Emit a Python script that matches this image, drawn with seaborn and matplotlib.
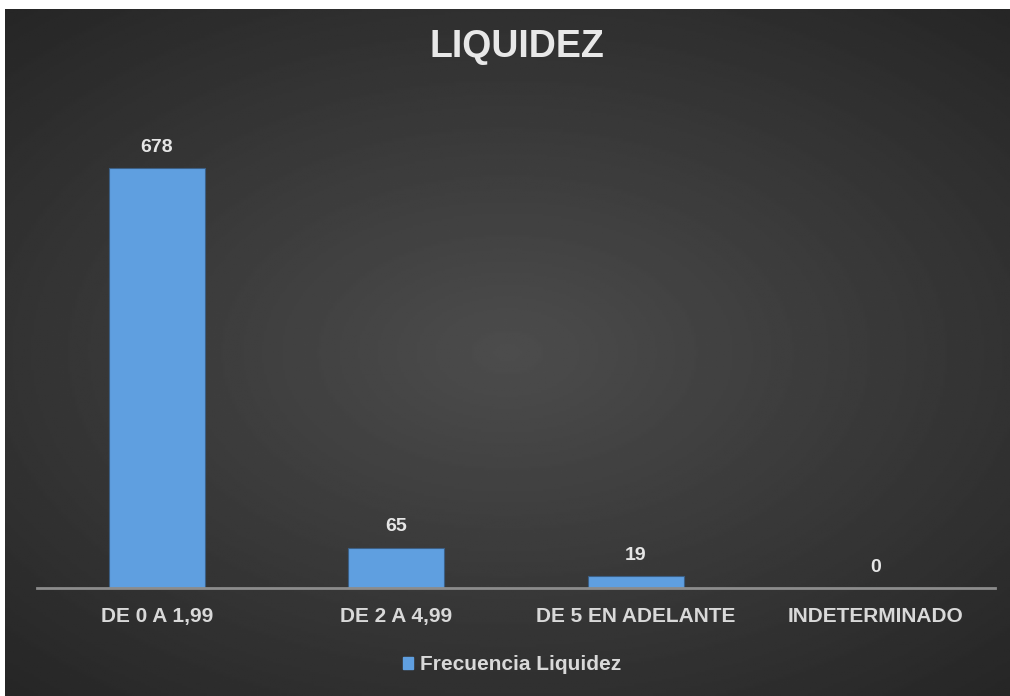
import numpy as np
import pandas as pd
import matplotlib.pyplot as plt
import seaborn as sns

# data
categorias = ["DE 0 A 1,99", "DE 2 A 4,99", "DE 5 EN ADELANTE", "INDETERMINADO"]
frecuencia = [678, 65, 19, 0]
serie = "Frecuencia Liquidez"

df = pd.DataFrame({"rango": categorias, "frecuencia": frecuencia})

sns.set_theme(style="dark")
plt.rcParams["font.family"] = ["Liberation Sans", "DejaVu Sans"]

fig = plt.figure(figsize=(10.1, 6.96), dpi=100, facecolor="white")

# dark radial background
bg = fig.add_axes([5 / 1010, 0, 1005 / 1010, 687 / 696])
yy, xx = np.mgrid[-1:1:300j, -1:1:440j]
r = np.sqrt((xx * 0.95) ** 2 + (yy * 1.05) ** 2)
shade = 0.30 - 0.15 * np.clip(r, 0, 1.4) / 1.4
bg.imshow(shade, cmap="gray", vmin=0, vmax=1, aspect="auto",
          extent=[0, 1, 0, 1])
bg.set_axis_off()

ax = fig.add_axes([37 / 1010, 108 / 696, 958 / 1010, 458 / 696])
ax.patch.set_alpha(0)
sns.barplot(data=df, x="rango", y="frecuencia", color="#5f9fe0",
            width=0.4, saturation=1, ax=ax, edgecolor="#3b5f85", linewidth=0.8)

for i, v in enumerate(frecuencia):
    ax.annotate(str(v), (i, v), xytext=(0, 9), textcoords="offset points",
                ha="center", va="bottom", fontsize=14, fontweight="bold",
                color="#e6e6e6")

ax.set_ylim(0, 740)
ax.set_xlim(-0.5, 3.5)
ax.set_yticks([])
ax.set_xlabel("")
ax.set_ylabel("")
for s in ["top", "right", "left"]:
    ax.spines[s].set_visible(False)
ax.spines["bottom"].set_color("#8c8c8c")
ax.spines["bottom"].set_linewidth(2)
ax.tick_params(axis="x", length=0, pad=14)
for lbl in ax.get_xticklabels():
    lbl.set_fontsize(15)
    lbl.set_fontweight("bold")
    lbl.set_color("#d9d9d9")

fig.text(517 / 1010, 1 - 47 / 696, "LIQUIDEZ",
         ha="center", va="center", fontsize=27, fontweight="bold",
         color="#e8e8e8")

handle = plt.Rectangle((0, 0), 1, 1, color="#5f9fe0")
fig.legend([handle], [serie], loc="center", bbox_to_anchor=(512 / 1010, 1 - 665 / 696),
           frameon=False, handlelength=0.5, handleheight=0.5, handletextpad=0.3,
           prop={"weight": "bold", "size": 15}, labelcolor="#d9d9d9")

fig.savefig("out.png", dpi=100, facecolor="white")
